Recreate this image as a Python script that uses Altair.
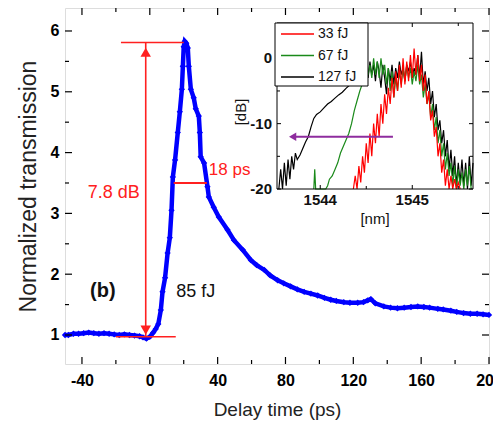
import altair as alt
import pandas as pd

# ---------------- main curve ----------------
delay_ps = [-50, -48, -45, -42, -39, -36, -33, -30, -27, -24, -21, -18, -15, -12, -9, -6, -4, -2, 0, 2,
            3.5, 5, 6.5, 7.5, 9, 10.5, 11.8, 12.8, 13.6, 14.9, 16.5, 17.7, 18.9, 19.5, 20, 20.6, 21.5, 22.4,
            23, 24.2, 25.9, 27.1, 28.9, 29.5, 30, 32, 34, 34.8, 37.7, 40.7, 45.8, 49.6, 54.8, 59.6, 63, 67.5,
            71, 75.4, 79, 83, 87, 91, 95, 99, 103, 106.7, 110, 114.4, 118, 122.6, 126, 128.5, 130.3, 133,
            138, 142, 146, 150, 154, 158, 161.6, 165, 169.8, 173, 177.5, 181, 185, 189, 193, 196.5, 200]
transmission = [1.0, 1.0, 1.02, 1.02, 1.03, 1.04, 1.03, 1.02, 1.03, 1.02, 1.01, 1.0, 1.01, 1.0, 0.99, 0.98,
                0.96, 0.94, 0.97, 1.04, 1.1, 1.18, 1.41, 1.71, 1.94, 2.35, 2.6, 3.05, 3.6, 3.88, 4.33, 4.67,
                5.04, 5.42, 5.74, 5.83, 5.8, 5.72, 5.42, 5.04, 4.9, 4.72, 4.6, 4.33, 3.93, 3.83, 3.44, 3.27,
                3.1, 2.94, 2.73, 2.56, 2.4, 2.23, 2.15, 2.07, 1.98, 1.9, 1.85, 1.8, 1.75, 1.71, 1.68, 1.65,
                1.61, 1.58, 1.56, 1.54, 1.53, 1.53, 1.54, 1.57, 1.59, 1.52, 1.47, 1.45, 1.44, 1.45, 1.46,
                1.47, 1.46, 1.45, 1.43, 1.42, 1.4, 1.38, 1.36, 1.35, 1.35, 1.34, 1.33]

# annotation values
peak_level = 5.81
base_level = 0.97
arrow_t = -2.4
peak_line_t = [-17, 20]
base_line_t = [-20, 15.3]
fwhm_t = [14.1, 33.6]
fwhm_level = 3.5
arrow_head_up = 5.65
arrow_head_down = 1.08

x_major = [-40, 0, 40, 80, 120, 160, 200]
x_minor = [-20, 20, 60, 100, 140, 180]
y_major = [1, 2, 3, 4, 5, 6]
y_minor = [1.5, 2.5, 3.5, 4.5, 5.5]

# ---------------- inset spectra ----------------
wl_127 = [1543.55, 1543.57, 1543.59, 1543.61, 1543.63, 1543.65, 1543.67, 1543.69, 1543.71, 1543.73, 1543.75,
          1543.78, 1543.81, 1543.84, 1543.87, 1543.90, 1543.93, 1543.96, 1544.00, 1544.04, 1544.08, 1544.12,
          1544.16, 1544.20, 1544.24, 1544.28, 1544.32, 1544.36, 1544.40, 1544.44, 1544.48,
          1544.50, 1544.52, 1544.54, 1544.56, 1544.58, 1544.60, 1544.62, 1544.64, 1544.66, 1544.68, 1544.70,
          1544.72, 1544.74, 1544.76, 1544.78, 1544.80, 1544.82, 1544.84, 1544.86, 1544.88, 1544.90, 1544.92,
          1544.94, 1544.96, 1544.98, 1545.00, 1545.02, 1545.04, 1545.06, 1545.08, 1545.10, 1545.12, 1545.14,
          1545.16, 1545.18, 1545.20, 1545.22, 1545.24, 1545.26, 1545.28, 1545.30, 1545.32, 1545.34, 1545.36,
          1545.38, 1545.40, 1545.42, 1545.44, 1545.46, 1545.48, 1545.50, 1545.52, 1545.54, 1545.56, 1545.58,
          1545.60, 1545.62, 1545.64, 1545.66]
db_127 = [-20, -17, -20, -16, -19.5, -15.5, -18.5, -15, -17, -14.5, -15.5, -14.8, -13.8, -12.8, -12, -10.5,
          -9.2, -8.6, -8.2, -7.6, -7, -6.6, -6.1, -5.6, -5.2, -4.6, -4.1, -3.9, -3.8, -3.5, -3.0,
          -1.5, -3, -0.5, -2.5, -1, -3.5, -0.5, -2, -4.5, -1, -3, -5.5, -1.5, -3.5, -1, -4, -1.5, -3, -0.5,
          -2.5, -1.5, -3.5, -1, -2, -0.5, -3, -1.5, -2.5, 0.5, -3, 1, -4, -2,
          -5, -3, -7, -5, -9, -7, -11, -9.5, -13, -11, -15, -12.5, -17, -14, -18, -15, -19.5, -16, -19,
          -15.5, -19.5, -16, -20, -15, -19.5, -16]

wl_67 = [1543.93, 1543.94, 1543.95, 1544.06, 1544.08, 1544.10, 1544.13, 1544.16, 1544.19, 1544.22, 1544.25,
         1544.28, 1544.31, 1544.34, 1544.37, 1544.40, 1544.43, 1544.46, 1544.49, 1544.52,
         1544.54, 1544.56, 1544.58, 1544.60, 1544.62, 1544.64, 1544.66, 1544.68, 1544.70, 1544.72, 1544.74,
         1544.76, 1544.78, 1544.80, 1544.82, 1544.84, 1544.86, 1544.88, 1544.90, 1544.92, 1544.94, 1544.96,
         1544.98, 1545.00, 1545.02, 1545.04, 1545.06, 1545.08, 1545.10, 1545.12, 1545.14, 1545.16, 1545.18,
         1545.20, 1545.22, 1545.24, 1545.26, 1545.28, 1545.30, 1545.32, 1545.34, 1545.36, 1545.38, 1545.40,
         1545.42, 1545.44, 1545.46, 1545.48, 1545.50, 1545.52, 1545.54, 1545.56, 1545.58, 1545.60, 1545.62,
         1545.64]
db_67 = [-20, -17, -20, -20, -19.5, -18.5, -18, -17, -16, -14.5, -13.5, -12.5, -11.5, -10, -8, -6.5, -5,
         -3.8, -3, -2.5,
         -1, -3, 0, -2.5, -0.5, -3, 0, -2.5, -1, -4, -1.5, -5, -2, -6, -3, -5, -2, -4, -1.5, -3.5, -1, -3,
         -1.5, -4, -2, -3.5, -1, -4, -2.5, -6, -4, -7, -5.5, -9, -7, -11, -9, -13, -11, -15, -13, -17,
         -14.5, -18, -16, -19.5, -16.5, -20, -17, -19.5, -17.5, -20, -17, -19.5, -16.5, -20]

wl_33 = [1544.36, 1544.38, 1544.40, 1544.42, 1544.44, 1544.46, 1544.48, 1544.50, 1544.52, 1544.54, 1544.56,
         1544.58, 1544.60, 1544.62, 1544.64, 1544.66, 1544.68, 1544.70, 1544.72, 1544.74, 1544.76, 1544.78,
         1544.80, 1544.82, 1544.84, 1544.86, 1544.88, 1544.90, 1544.92, 1544.94, 1544.96, 1544.98, 1545.00,
         1545.02, 1545.04, 1545.06, 1545.08, 1545.10, 1545.12, 1545.14, 1545.16, 1545.18, 1545.20, 1545.22,
         1545.24, 1545.26, 1545.28, 1545.30, 1545.32, 1545.34, 1545.36, 1545.38, 1545.40, 1545.42, 1545.44,
         1545.46, 1545.48, 1545.50, 1545.52]
db_33 = [-20, -18, -20, -16.5, -19, -15, -17.5, -13, -16, -11.5, -15, -10, -13, -8.5, -12, -7, -10, -5.5,
         -8.5, -4.5, -7, -3, -6, -2, -5, -1, -4.5, 0, -4, -0.5, -3.5, 0.5, -3, 1.5, -2.5, 0.5, -3.5, -1, -5,
         -2.5, -7, -5, -9.5, -8, -12, -10.5, -15, -13, -17.5, -15.5, -19.5, -17, -20, -18, -20, -18.5, -20,
         -19, -20]

legend_labels = ["33 fJ", "67 fJ", "127 fJ"]
legend_colors = ["#ff0000", "#1a8a1a", "#000000"]

inset_x_domain = [1543.53, 1545.66]
inset_y_domain = [-20, 5.4]
inset_x_major = [1544, 1545]
inset_x_minor = [1544.5, 1545.5]
inset_y_major = [-20, -10, 0]
inset_y_minor = [-15, -5]
inset_x_labels = ["1544", "1545"]
inset_y_labels = ["-20", "-10", "0"]
shift_arrow_wl = [1543.72, 1544.79]
shift_arrow_head = 1543.70
shift_arrow_db = -12

# ---------------- layout ----------------
W, H = 424, 356
FONT = "Liberation Sans"
RED = "#ff2020"
BLUE = "#0000ff"
IX0, IX1 = 212, 408      # inset frame in plot pixels
IY0, IY1 = 15, 181

xs = alt.Scale(domain=[-50, 200], nice=False, zero=False)
ys = alt.Scale(domain=[0.523, 6.378], nice=False, zero=False)
ixs = alt.Scale(domain=inset_x_domain, range=[IX0, IX1], nice=False, zero=False)
iys = alt.Scale(domain=inset_y_domain, range=[IY1, IY0], nice=False, zero=False)

one = pd.DataFrame({"a": [0]})

main_df = pd.DataFrame({"t": delay_ps, "T": transmission})

x_axis = alt.Axis(values=x_major, ticks=False, tickSize=0, domain=False, grid=False,
                  labelFontSize=16, labelFontWeight="bold", labelPadding=8, labelFlush=False,
                  labelExpr="'' + datum.value", labelColor="black",
                  title="Delay time (ps)", titleFontSize=19, titleFontWeight="normal",
                  titlePadding=12, titleColor="#222222")
y_axis = alt.Axis(values=y_major, ticks=False, tickSize=0, domain=False, grid=False,
                  labelFontSize=16, labelFontWeight="bold", labelPadding=6, labelFlush=False,
                  labelExpr="'' + datum.value", labelColor="black",
                  title="Normalized transmission", titleFontSize=23, titleFontWeight="normal",
                  titlePadding=10, titleColor="#222222")

line = alt.Chart(main_df).mark_line(color=BLUE, strokeWidth=4.5).encode(
    x=alt.X("t:Q", scale=xs, axis=x_axis),
    y=alt.Y("T:Q", scale=ys, axis=y_axis),
)
pts = alt.Chart(main_df).mark_point(shape="diamond", filled=True, size=40, color=BLUE, opacity=1).encode(
    x=alt.X("t:Q", scale=xs), y=alt.Y("T:Q", scale=ys))


def hrule(t_pair, level, color, sw):
    df = pd.DataFrame({"x1": [t_pair[0]], "x2": [t_pair[1]], "y": [level]})
    return alt.Chart(df).mark_rule(color=color, strokeWidth=sw).encode(
        x=alt.X("x1:Q", scale=xs), x2="x2:Q", y=alt.Y("y:Q", scale=ys))


peak_rule = hrule(peak_line_t, peak_level, RED, 1.6)
base_rule = hrule(base_line_t, base_level, RED, 1.6)
fwhm_rule = hrule(fwhm_t, fwhm_level, RED, 1.8)
vert_rule = alt.Chart(pd.DataFrame({"x": [arrow_t], "y1": [base_level], "y2": [peak_level]})).mark_rule(
    color=RED, strokeWidth=1.6).encode(x=alt.X("x:Q", scale=xs), y=alt.Y("y1:Q", scale=ys), y2="y2:Q")
head_up = alt.Chart(pd.DataFrame({"x": [arrow_t], "y": [arrow_head_up]})).mark_point(
    shape="triangle-up", filled=True, size=110, color=RED, opacity=1).encode(
    x=alt.X("x:Q", scale=xs), y=alt.Y("y:Q", scale=ys))
head_down = alt.Chart(pd.DataFrame({"x": [arrow_t], "y": [arrow_head_down]})).mark_point(
    shape="triangle-down", filled=True, size=110, color=RED, opacity=1).encode(
    x=alt.X("x:Q", scale=xs), y=alt.Y("y:Q", scale=ys))


def label(text, t, v, color, size, weight="normal", align="center"):
    df = pd.DataFrame({"x": [t], "y": [v], "s": [text]})
    return alt.Chart(df).mark_text(color=color, fontSize=size, fontWeight=weight, align=align,
                                   baseline="middle", font=FONT).encode(
        x=alt.X("x:Q", scale=xs), y=alt.Y("y:Q", scale=ys), text="s:N")


txt_db = label("7.8 dB", -21.2, 3.34, RED, 18)
txt_ps = label("18 ps", 34.8, 3.72, RED, 17, align="left")
txt_fj = label("85 fJ", 27.1, 1.71, "#111111", 18)
txt_b = label("(b)", -27.7, 1.72, "#111111", 20, weight="bold")

# main ticks (inward, all four sides)
def xticks(vals, length):
    d = pd.DataFrame({"v": vals})
    b = alt.Chart(d).mark_rule(color="black", strokeWidth=1.2).encode(
        x=alt.X("v:Q", scale=xs), y=alt.value(H), y2=alt.value(H - length))
    t = alt.Chart(d).mark_rule(color="black", strokeWidth=1.2).encode(
        x=alt.X("v:Q", scale=xs), y=alt.value(0), y2=alt.value(length))
    return [b, t]


def yticks(vals, length):
    d = pd.DataFrame({"v": vals})
    l = alt.Chart(d).mark_rule(color="black", strokeWidth=1.2).encode(
        y=alt.Y("v:Q", scale=ys), x=alt.value(0), x2=alt.value(length))
    r = alt.Chart(d).mark_rule(color="black", strokeWidth=1.2).encode(
        y=alt.Y("v:Q", scale=ys), x=alt.value(W), x2=alt.value(W - length))
    return [l, r]


main_layers = [line, pts, peak_rule, base_rule, fwhm_rule, vert_rule, head_up, head_down,
               txt_db, txt_ps, txt_fj, txt_b]
main_layers += xticks(x_major, 7) + xticks(x_minor, 4) + yticks(y_major, 7) + yticks(y_minor, 4)
main = alt.layer(*main_layers)

# ---------------- inset ----------------
def spec_line(wl, db, color):
    df = pd.DataFrame({"wl": wl, "db": db})
    return alt.Chart(df).mark_line(color=color, strokeWidth=1.2).encode(
        x=alt.X("wl:Q", scale=ixs, axis=None), y=alt.Y("db:Q", scale=iys, axis=None))


s127 = spec_line(wl_127, db_127, legend_colors[2])
s67 = spec_line(wl_67, db_67, legend_colors[1])
s33 = spec_line(wl_33, db_33, legend_colors[0])

frame = alt.Chart(one).mark_rect(fillOpacity=0, stroke="black", strokeWidth=1).encode(
    x=alt.value(IX0), x2=alt.value(IX1), y=alt.value(IY0), y2=alt.value(IY1))


def ixticks(vals, length):
    d = pd.DataFrame({"v": vals})
    b = alt.Chart(d).mark_rule(color="black", strokeWidth=1).encode(
        x=alt.X("v:Q", scale=ixs, axis=None), y=alt.value(IY1), y2=alt.value(IY1 - length))
    t = alt.Chart(d).mark_rule(color="black", strokeWidth=1).encode(
        x=alt.X("v:Q", scale=ixs, axis=None), y=alt.value(IY0), y2=alt.value(IY0 + length))
    return [b, t]


def iyticks(vals, length):
    d = pd.DataFrame({"v": vals})
    l = alt.Chart(d).mark_rule(color="black", strokeWidth=1).encode(
        y=alt.Y("v:Q", scale=iys, axis=None), x=alt.value(IX0), x2=alt.value(IX0 + length))
    r = alt.Chart(d).mark_rule(color="black", strokeWidth=1).encode(
        y=alt.Y("v:Q", scale=iys, axis=None), x=alt.value(IX1), x2=alt.value(IX1 - length))
    return [l, r]


ixlab = alt.Chart(pd.DataFrame({"v": inset_x_major, "s": inset_x_labels})).mark_text(
    fontSize=15, fontWeight="bold", font=FONT, baseline="middle", align="center", color="#111111").encode(
    x=alt.X("v:Q", scale=ixs, axis=None), y=alt.value(IY1 + 11), text="s:N")
iylab = alt.Chart(pd.DataFrame({"v": inset_y_major, "s": inset_y_labels})).mark_text(
    fontSize=15, fontWeight="bold", font=FONT, baseline="middle", align="right", color="#111111").encode(
    y=alt.Y("v:Q", scale=iys, axis=None), x=alt.value(IX0 - 5), text="s:N")
ixtitle = alt.Chart(one).mark_text(fontSize=15, font=FONT, baseline="middle", align="center",
                                   color="#111111", text="[nm]").encode(
    x=alt.value((IX0 + IX1) / 2), y=alt.value(IY1 + 30))
iytitle = alt.Chart(one).mark_text(fontSize=15, font=FONT, baseline="middle", align="center",
                                   color="#111111", text="[dB]", angle=270).encode(
    x=alt.value(IX0 - 36), y=alt.value((IY0 + IY1) / 2 + 6))

arrow_df = pd.DataFrame({"x1": [shift_arrow_wl[0]], "x2": [shift_arrow_wl[1]], "y": [shift_arrow_db]})
p_arrow = alt.Chart(arrow_df).mark_rule(color="#8e2c9e", strokeWidth=2).encode(
    x=alt.X("x1:Q", scale=ixs, axis=None), x2="x2:Q", y=alt.Y("y:Q", scale=iys, axis=None))
p_head = alt.Chart(pd.DataFrame({"x": [shift_arrow_head], "y": [shift_arrow_db]})).mark_point(
    shape="triangle-left", filled=True, size=70, color="#8e2c9e", opacity=1).encode(
    x=alt.X("x:Q", scale=ixs, axis=None), y=alt.Y("y:Q", scale=iys, axis=None))

# legend box (drawn over the spectra)
LX0, LX1, LY0, LY1 = 210, 303, 15, 78
leg_box = alt.Chart(one).mark_rect(fill="white", stroke="black", strokeWidth=1).encode(
    x=alt.value(LX0), x2=alt.value(LX1), y=alt.value(LY0), y2=alt.value(LY1))
leg_layers = [leg_box]
for i, (lab, col) in enumerate(zip(legend_labels, legend_colors)):
    yy = 26 + 21.5 * i
    leg_layers.append(alt.Chart(one).mark_rule(color=col, strokeWidth=1.3).encode(
        x=alt.value(LX0 + 6), x2=alt.value(LX0 + 39), y=alt.value(yy)))
    leg_layers.append(alt.Chart(one).mark_text(fontSize=14, font=FONT, align="left", baseline="middle",
                                               color="#111111", text=lab).encode(
        x=alt.value(LX0 + 43), y=alt.value(yy)))

inset_layers = [s127, s67, s33, frame] + ixticks(inset_x_major, 4) + ixticks(inset_x_minor, 3) \
    + iyticks(inset_y_major, 4) + iyticks(inset_y_minor, 3) + [ixlab, iylab, ixtitle, iytitle,
                                                               p_arrow, p_head] + leg_layers
inset = alt.layer(*inset_layers)

chart = alt.layer(main, inset).resolve_scale(x="independent", y="independent").properties(
    width=W, height=H,
    autosize=alt.AutoSizeParams(type="none"),
    padding={"left": 57, "top": 0, "right": 4, "bottom": 60},
).configure_view(stroke="black", strokeWidth=1.5).configure(font=FONT, background="white")

chart.save("out.html", embed_options={"renderer": "svg", "actions": False})
